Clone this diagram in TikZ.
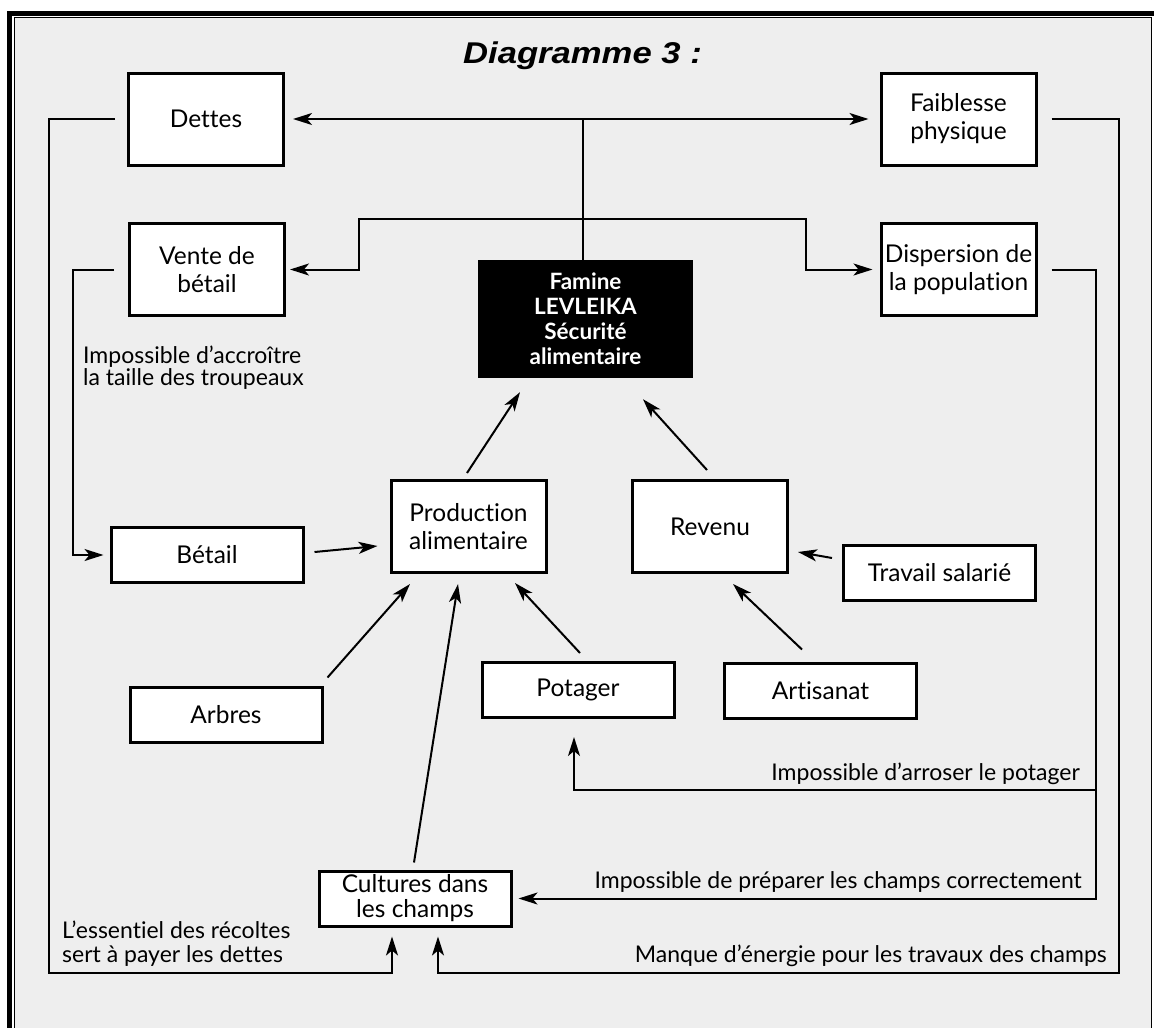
\documentclass[tikz,border=0pt]{standalone}
\usepackage{graphicx}
\usepackage{fontspec}
\setmainfont{Lato}[Ligatures={NoCommon}]
\newfontfamily\titlefont{Liberation Sans}
\usetikzlibrary{arrows.meta,calc}
\definecolor{bggray}{HTML}{EEEEEE}
\begin{document}
\begin{tikzpicture}[x=1pt,y=-1pt,
  box/.style={draw=black, line width=3pt, fill=white, inner sep=0pt, align=center,
    font=\fontsize{24.5pt}{28pt}\selectfont},
  bigbox/.style={box, minimum width=155pt, minimum height=92pt},
  smallbox/.style={box, minimum width=192pt, minimum height=55pt},
  faminebox/.style={fill=black, text=white, inner sep=0pt, align=center,
    minimum width=215pt, minimum height=118pt,
    font=\bfseries\fontsize{22.5pt}{25pt}\selectfont},
  conn/.style={line width=2pt},
  tip/.style={-{Stealth[length=19pt,width=12pt,inset=5pt]}},
  arr/.style={conn, tip},
  lbl/.style={font=\fontsize{23pt}{26pt}\selectfont, inner sep=0pt},
]
\useasboundingbox (0,0) rectangle (1154,1028);
\fill[white] (0,0) rectangle (1154,1028);
\fill[bggray] (14.5,17.5) rectangle (1151.5,1028);
\draw[line width=1.3pt] (14.5,1032) -- (14.5,17.5) -- (1151.5,17.5) -- (1151.5,1032);
\draw[line width=5pt] (9.5,1032) -- (9.5,13) -- (1160,13);

\node[font=\titlefont\bfseries\itshape\fontsize{30pt}{30pt}\selectfont, anchor=base, inner sep=0pt]
  (title) at (582.5,63) {\scalebox{1.155}[1]{Diagramme 3 :}};

% boxes
\node[bigbox] (dettes) at (206,119) {Dettes};
\node[bigbox] (faib) at (958.5,119) {Faiblesse\\physique};
\node[bigbox] (vente) at (207,269.5) {Vente de\\bétail};
\node[bigbox] (disp) at (958.5,269.5) {Dispersion de\\la population};
\node[faminebox] (famine) at (585.5,319) {Famine\\LEVLEIKA\\Sécurité\\alimentaire};
\node[bigbox] (prod) at (468.5,526.5) {Production\\alimentaire};
\node[bigbox] (revenu) at (710,526.5) {Revenu};
\node[smallbox] (betail) at (207,555) {Bétail};
\node[smallbox] (travail) at (939.5,573) {Travail salarié};
\node[smallbox] (arbres) at (226,714.5) {Arbres};
\node[smallbox] (potager) at (578,690) {Potager};
\node[smallbox] (artisanat) at (820.5,690.5) {Artisanat};
\node[smallbox, font=\fontsize{24.5pt}{25pt}\selectfont] (cultures) at (415,898.5) {Cultures dans\\les champs};

% junctions
\coordinate (topj) at (583,119);
\coordinate (midj) at (583,219);
\coordinate (potj) at (1096,790);

% top connectors
\draw[conn, {Stealth[length=19pt,width=12pt,inset=5pt]}-{Stealth[length=19pt,width=12pt,inset=5pt]},
  shorten <=8pt, shorten >=11pt] (dettes.east) -- (faib.west);
\draw[conn] (topj) -- (famine.north -| topj);
\draw[conn] (359,219) -- (806,219);
\draw[arr, shorten >=4pt] (midj) -- (359,219) |- (vente.east);
\draw[arr, shorten >=7pt] (midj) -- (806,219) |- (disp.west);

% outer loops
\draw[arr, shorten <=12pt, shorten >=9pt] (dettes.west) -- (49,119) -- (49,973) -| ($(cultures.south)+(-23,0)$);
\draw[arr, shorten <=14pt, shorten >=6pt] (vente.west) -- (73,269.5) |- (betail.west);
\draw[arr, shorten <=14pt, shorten >=9pt] (faib.east) -- (1119,119) -- (1119,973) -| ($(cultures.south)+(23,0)$);
\draw[arr, shorten <=14pt, shorten >=6pt] (disp.east) -- (1096,269.5) |- (cultures.east);
\draw[arr, shorten >=18pt] (potj) -| ($(potager.south)+(-4,0)$);

% straight arrows
\draw[arr] ($(prod.north)+(-1.5,-6)$) -- ($(famine.south)+(-65.5,14)$);
\draw[arr] ($(revenu.north)+(-3,-9)$) -- ($(famine.south)+(57.5,21)$);
\draw[arr] ($(betail.east)+(10,-3)$) -- ($(prod.west)+(-12,19.5)$);
\draw[arr] ($(arbres.north east)+(4,-8)$) -- ($(prod.south west)+(20.5,10)$);
\draw[arr] ($(cultures.north)+(-1,-7)$) -- ($(prod.south)+(-10.5,10)$);
\draw[arr] ($(potager.north)+(2,-8)$) -- ($(prod.south east)+(-32.5,9)$);
\draw[arr] ($(artisanat.north)+(-18.5,-12)$) -- ($(revenu.south)+(23,10)$);
\draw[arr] ($(travail.west)+(-10,-15)$) -- ($(revenu.east)+(9,25.5)$);

% labels
\node[lbl, anchor=base west] (l1a) at (83,363) {Impossible d’accroître};
\node[lbl, anchor=base west] (l1b) at (83,385) {la taille des troupeaux};
\node[lbl, anchor=base east] (l2) at (1080,780) {Impossible d’arroser le potager};
\node[lbl, anchor=base east] (l3) at (1082,888) {Impossible de préparer les champs correctement};
\node[lbl, anchor=base west] (l4a) at (62,938) {L’essentiel des récoltes};
\node[lbl, anchor=base west] (l4b) at (62,962) {sert à payer les dettes};
\node[lbl, anchor=base east] (l5) at (1107,962) {Manque d’énergie pour les travaux des champs};
\end{tikzpicture}
\end{document}
